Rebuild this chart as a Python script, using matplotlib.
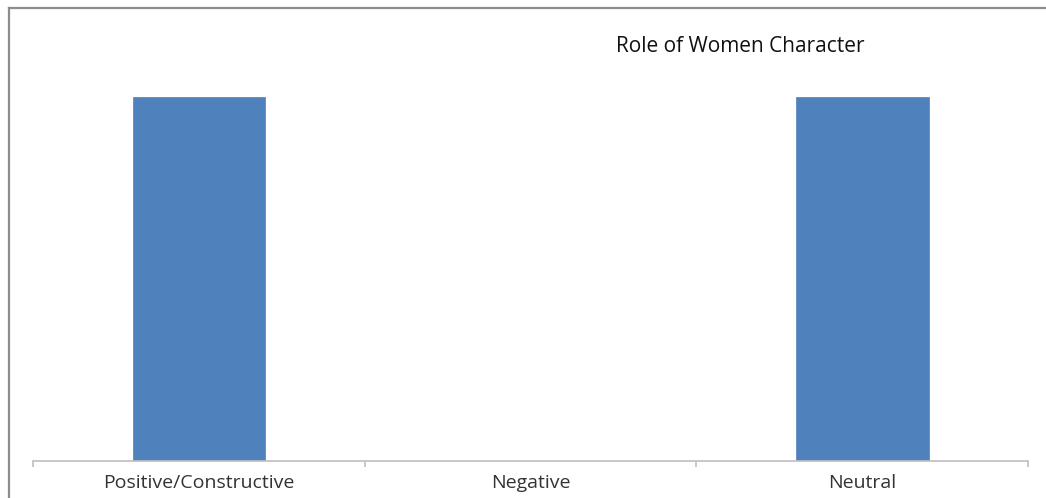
import numpy as np
import matplotlib.pyplot as plt
from matplotlib.lines import Line2D

plt.rcParams['font.family'] = ['Open Sans', 'DejaVu Sans']

categories = ['Positive/Constructive', 'Negative', 'Neutral']
values = [50, 0, 50]
chart_title = 'Role of Women Character'

W, H = 1046, 498
fig = plt.figure(figsize=(W / 100, H / 100), dpi=100)

# axes box in pixel terms
left, right, bottom, top = 33, 1028, 461, 20
ax = fig.add_axes([left / W, 1 - bottom / H, (right - left) / W, (bottom - top) / H])

x = np.arange(len(categories))
ax.bar(x, values, width=0.4, color='#4f81bd', edgecolor='#4f81bd', linewidth=0.5, zorder=2)

ax.set_xlim(-0.5, len(categories) - 0.5)
ax.set_ylim(0, 50 * (bottom - top) / (bottom - 97))

for s in ['top', 'right', 'left']:
    ax.spines[s].set_visible(False)
ax.spines['bottom'].set_color('#bfbfbf')
ax.spines['bottom'].set_linewidth(1.2)
ax.set_yticks([])

# ticks between categories, labels at centres
ax.set_xticks(np.arange(len(categories) + 1) - 0.5)
ax.set_xticklabels([])
ax.tick_params(axis='x', which='major', direction='out', length=4, width=1.2, color='#bfbfbf')
ax.set_xticks(x, minor=True)
ax.set_xticklabels(categories, minor=True, fontsize=14, color='#333333')
ax.tick_params(axis='x', which='minor', length=0, pad=9)

fig.text(740 / W, 1 - 46 / H, chart_title, ha='center', va='center', fontsize=15, color='#111111')

# outer frame (top and left only)
fig.add_artist(Line2D([9 / W, 1], [1 - 8 / H, 1 - 8 / H], transform=fig.transFigure, color='#8c8c8c', lw=1.6))
fig.add_artist(Line2D([9 / W, 9 / W], [0, 1 - 8 / H], transform=fig.transFigure, color='#8c8c8c', lw=1.6))

fig.savefig('out.png', dpi=100, facecolor='white')
